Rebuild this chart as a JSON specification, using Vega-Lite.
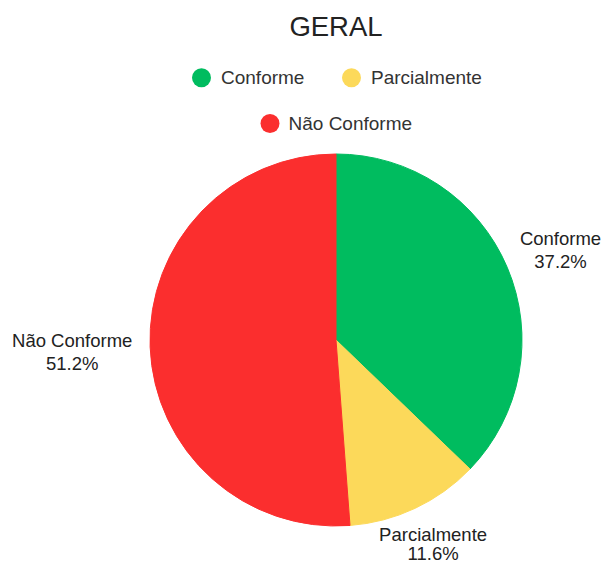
{
  "$schema": "https://vega.github.io/schema/vega-lite/v6.json",
  "width": 540,
  "height": 372,
  "autosize": {"type": "none"},
  "padding": {"left": 66, "top": 154, "right": 0, "bottom": 38},
  "background": "white",
  "title": {"text": "GERAL", "fontSize": 27.5, "font": "Liberation Sans", "fontWeight": "normal", "color": "#222222", "anchor": "middle", "offset": 26},
  "data": {"values": [
    {"Categoria": "Conforme", "Percentual": 37.2},
    {"Categoria": "Parcialmente", "Percentual": 11.6},
    {"Categoria": "Não Conforme", "Percentual": 51.2}
  ]},
  "transform": [
    {"calculate": "indexof(['Conforme','Parcialmente','Não Conforme'], datum.Categoria)", "as": "ordem"},
    {"calculate": "[datum.Categoria, format(datum.Percentual, '.1f') + '%']", "as": "rotulo"}
  ],
  "encoding": {
    "theta": {"field": "Percentual", "type": "quantitative", "stack": true},
    "order": {"field": "ordem", "type": "quantitative"}
  },
  "layer": [
    {
      "mark": {"type": "arc", "strokeWidth": 1},
      "encoding": {
        "color": {
          "field": "Categoria", "type": "nominal",
          "scale": {"domain": ["Conforme", "Parcialmente", "Não Conforme"], "range": ["#00bc5f", "#fcd95a", "#fb2e2e"]},
          "legend": {"values": ["Conforme", "Parcialmente"], "title": null, "orient": "top", "direction": "horizontal"}
        },
        "stroke": {
          "field": "Categoria", "type": "nominal",
          "scale": {"domain": ["Não Conforme", "Conforme", "Parcialmente"], "range": ["#fb2e2e", "#00bc5f", "#fcd95a"]},
          "legend": {"values": ["Não Conforme"], "title": null, "orient": "top", "direction": "horizontal", "symbolFillColor": "#fb2e2e", "symbolStrokeWidth": 0}
        }
      }
    },
    {
      "mark": {"type": "text", "radius": 244, "dy": -6, "fontSize": 18.5, "font": "Liberation Sans", "fill": "#222222", "lineHeight": 23, "align": "center", "baseline": "middle"},
      "encoding": {"text": {"condition": {"test": "datum.Categoria === 'Conforme'", "field": "rotulo", "type": "nominal"}, "value": ""}}
    },
    {
      "mark": {"type": "text", "radius": 228, "dy": -11, "fontSize": 18.5, "font": "Liberation Sans", "fill": "#222222", "lineHeight": 19, "align": "center", "baseline": "middle"},
      "encoding": {"text": {"condition": {"test": "datum.Categoria === 'Parcialmente'", "field": "rotulo", "type": "nominal"}, "value": ""}}
    },
    {
      "mark": {"type": "text", "radius": 264, "dy": -9, "fontSize": 18.5, "font": "Liberation Sans", "fill": "#222222", "lineHeight": 23, "align": "center", "baseline": "middle"},
      "encoding": {"text": {"condition": {"test": "datum.Categoria === 'Não Conforme'", "field": "rotulo", "type": "nominal"}, "value": ""}}
    }
  ],
  "config": {
    "view": {"stroke": null},
    "legend": {
      "labelFont": "Liberation Sans",
      "labelFontSize": 19,
      "labelColor": "#333333",
      "symbolType": "circle",
      "symbolSize": 361,
      "labelOffset": 9,
      "columnPadding": 36,
      "offset": 20,
      "layout": {"top": {"anchor": "middle", "direction": "vertical", "center": true, "margin": 26}}
    }
  }
}
